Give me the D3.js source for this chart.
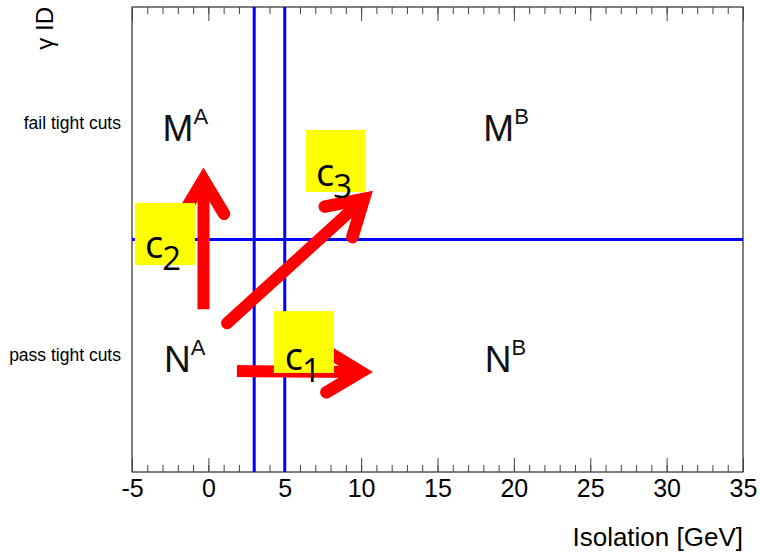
<!DOCTYPE html>
<html>
<head>
<meta charset="utf-8">
<script src="https://cdn.jsdelivr.net/npm/d3@7"></script>
<style>
  body { margin: 0; background: #fff; }
  svg { display: block; font-family: "Liberation Sans", Arial, sans-serif; }
</style>
</head>
<body>
<svg id="chart" width="760" height="552"></svg>
<script>
'use strict';

// x axis (isolation, GeV)
var xDomain = [-5, 35];
var majorTicks = [-5, 0, 5, 10, 15, 20, 25, 30, 35];
var minorTicks = d3.range(-5, 36, 1);

// y: two categories, continuous 0..2 underneath
var categories = ["pass tight cuts", "fail tight cuts"];
var categoryPos = [0.5, 1.5];
var splitY = 1;

// isolation cut lines
var isoCuts = [3, 5];

// region labels
var regionNames = ["M", "N", "M", "N"];
var regionSups = ["A", "A", "B", "B"];
var regionX = [-3.0, -2.9, 18.0, 18.1];
var regionY = [1.424, 0.43, 1.424, 0.43];

// correlation arrows (from -> tip, data units)
var arrowFrom = [[1.87, 0.434], [-0.32, 0.70], [1.22, 0.64]];
var arrowTo = [[10.77, 0.43], [-0.32, 1.31], [10.77, 1.21]];

// yellow "c" boxes [x0, x1, yTop, yBottom]
var boxNames = ["1", "2", "3"];
var boxes = [[4.29, 8.22, 0.692, 0.426], [-4.81, -0.88, 1.157, 0.890], [6.39, 10.25, 1.471, 1.204]];
var boxTextX = [5.0, -4.15, 7.05];
var boxTextY = [0.439, 0.920, 1.230];

(function() {
var svg = d3.select("#chart");
var plotL = 132, plotR = 743, plotT = 7, plotB = 472;

var x = d3.scaleLinear().domain(xDomain).range([plotL, plotR]);
var y = d3.scaleLinear().domain([0, 2]).range([plotB, plotT]);

// frame
svg.append("rect")
  .attr("x", plotL).attr("y", plotT)
  .attr("width", plotR - plotL).attr("height", plotB - plotT)
  .attr("fill", "none").attr("stroke", "#000").attr("stroke-width", 1);

// ticks
function styleAxis(g) {
  g.select(".domain").remove();
  g.selectAll(".tick line").attr("stroke", "#444");
}
svg.append("g").attr("transform", "translate(0," + plotB + ")")
  .call(d3.axisBottom(x).tickValues(minorTicks).tickSize(-7).tickFormat(""))
  .call(styleAxis);
svg.append("g").attr("transform", "translate(0," + plotT + ")")
  .call(d3.axisTop(x).tickValues(minorTicks).tickSize(-7).tickFormat(""))
  .call(styleAxis);
svg.append("g").attr("transform", "translate(0," + plotT + ")")
  .call(d3.axisTop(x).tickValues(majorTicks).tickSize(-14).tickFormat(""))
  .call(styleAxis);
var xAxis = svg.append("g").attr("transform", "translate(0," + plotB + ")")
  .call(d3.axisBottom(x).tickValues(majorTicks).tickSize(-14).tickPadding(7)
    .tickFormat(function(d) { return String(d); }))
  .call(styleAxis);
xAxis.selectAll("text")
  .attr("font-family", "Liberation Sans, Arial, sans-serif")
  .attr("font-size", 25).attr("fill", "#000");

// axis titles
svg.append("text")
  .attr("x", plotR).attr("y", 546)
  .attr("text-anchor", "end")
  .attr("font-size", 26)
  .text("Isolation [GeV]");
svg.append("text")
  .attr("transform", "translate(53," + plotT + ") rotate(-90)")
  .attr("text-anchor", "end")
  .attr("font-size", 24)
  .text("\u03b3 ID");

// category labels
svg.selectAll(".cat").data(categories).enter().append("text")
  .attr("class", "cat")
  .attr("x", plotL - 11)
  .attr("y", function(d, i) { return y(categoryPos[i]); })
  .attr("dy", "0.32em")
  .attr("text-anchor", "end")
  .attr("font-size", 17.5)
  .text(function(d) { return d; });

// blue cut lines
svg.selectAll(".cut").data(isoCuts).enter().append("line")
  .attr("x1", function(d) { return x(d); }).attr("x2", function(d) { return x(d); })
  .attr("y1", plotT).attr("y2", plotB)
  .attr("stroke", "#0000ff").attr("stroke-width", 3);
svg.append("line")
  .attr("x1", plotL).attr("x2", plotR)
  .attr("y1", y(splitY)).attr("y2", y(splitY))
  .attr("stroke", "#0000ff").attr("stroke-width", 3);

// region labels
regionNames.forEach(function(n, i) {
  var t = svg.append("text")
    .attr("x", x(regionX[i])).attr("y", y(regionY[i]))
    .attr("font-size", 37).attr("fill", "#111");
  t.append("tspan").text(n);
  t.append("tspan").attr("font-size", 22).attr("dy", -17).text(regionSups[i]);
});

// arrows: chevron head, outer tip lands on arrowTo
var sw = 12.5, headLen = 40, headAng = 31 * Math.PI / 180;
var tipBack = (sw / 2) / Math.sin(headAng);
arrowFrom.forEach(function(f, i) {
  var x0 = x(f[0]), y0 = y(f[1]), xt = x(arrowTo[i][0]), yt = y(arrowTo[i][1]);
  var a = Math.atan2(yt - y0, xt - x0);
  var x1 = xt - tipBack * Math.cos(a), y1 = yt - tipBack * Math.sin(a);
  var g = svg.append("g").attr("stroke", "#ff0000").attr("fill", "none")
    .attr("stroke-width", sw);
  g.append("line").attr("x1", x0).attr("y1", y0)
    .attr("x2", x1 - 6 * Math.cos(a)).attr("y2", y1 - 6 * Math.sin(a))
    .attr("stroke-width", 12)
    .attr("stroke-linecap", i === 2 ? "round" : "butt");
  var p = d3.path();
  p.moveTo(x1 - headLen * Math.cos(a - headAng), y1 - headLen * Math.sin(a - headAng));
  p.lineTo(x1, y1);
  p.lineTo(x1 - headLen * Math.cos(a + headAng), y1 - headLen * Math.sin(a + headAng));
  g.append("path").attr("d", p.toString())
    .attr("stroke-linecap", "round").attr("stroke-linejoin", "miter");
});

// yellow boxes with c labels
boxes.forEach(function(b, i) {
  svg.append("rect")
    .attr("x", x(b[0])).attr("y", y(b[2]))
    .attr("width", x(b[1]) - x(b[0])).attr("height", y(b[3]) - y(b[2]))
    .attr("fill", "#ffff00");
  var t = svg.append("text")
    .attr("x", x(boxTextX[i])).attr("y", y(boxTextY[i]))
    .attr("font-family", "'Open Sans', Lato, sans-serif")
    .attr("font-size", 38).attr("fill", "#000");
  t.append("tspan").text("c");
  t.append("tspan").attr("font-size", 33).attr("dx", -1).attr("dy", 12).text(boxNames[i]);
});
})();
</script>
</body>
</html>
